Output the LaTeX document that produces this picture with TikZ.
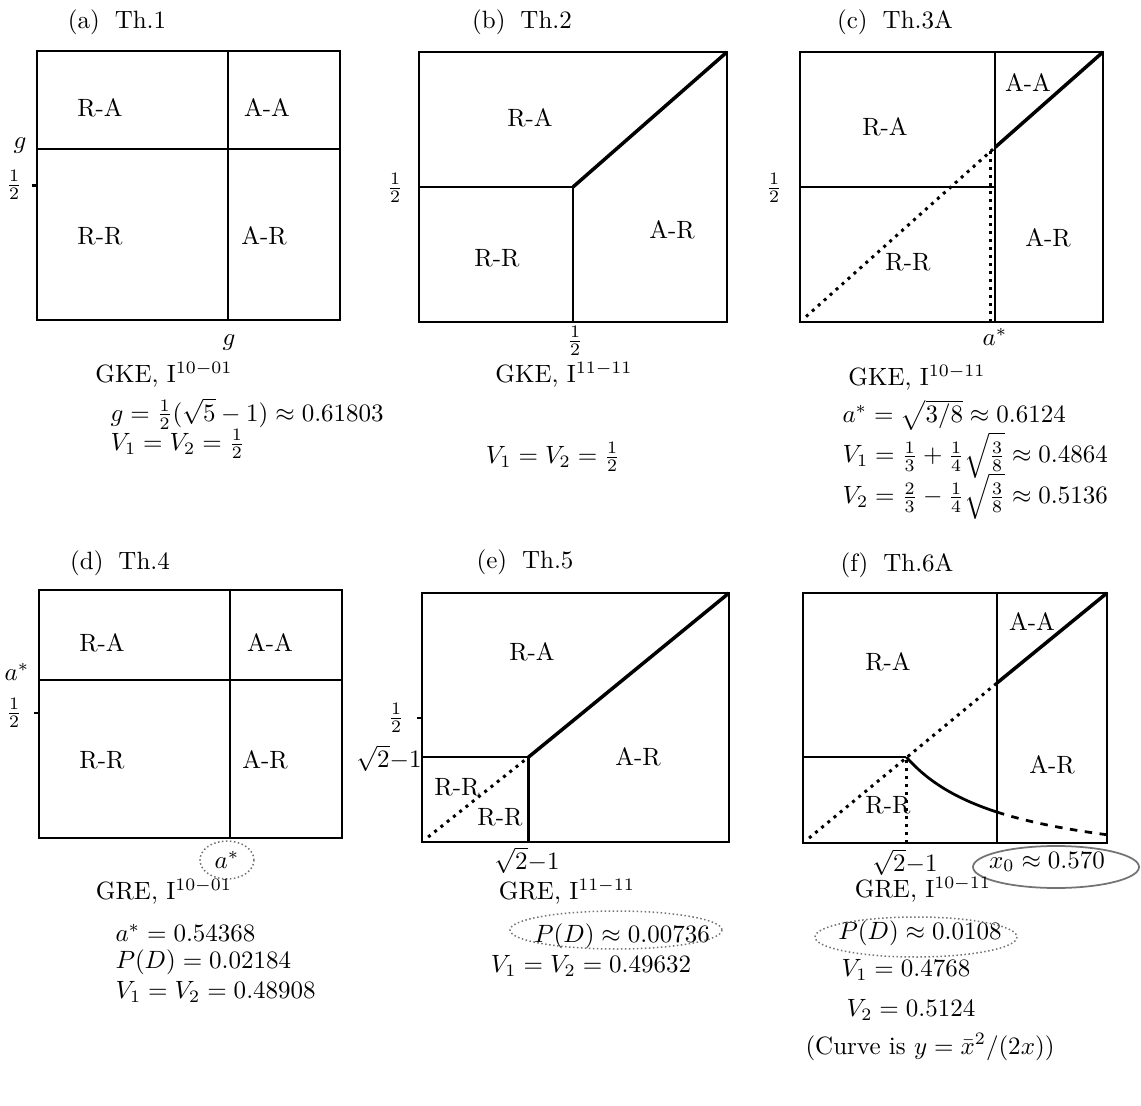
\documentclass[tikz,border=0pt]{standalone}
\usepackage{tikz}
\usetikzlibrary{calc}
\tikzset{
  frame/.style={draw=black,line width=0.9pt},
  split/.style={draw=black,line width=0.9pt},
  bound/.style={draw=black,line width=1.4pt},
  dotline/.style={draw=black,line width=1.2pt,dotted},
  dashline/.style={draw=black,line width=1.1pt,dash pattern=on 3pt off 3pt},
  region/.style={inner sep=0pt},
  ticklab/.style={inner sep=0pt},
  paneltitle/.style={inner sep=0pt},
  capt/.style={inner sep=0pt},
  formula/.style={inner sep=0pt,anchor=west},
  scribble/.style={draw=black!55,densely dotted,line width=0.6pt},
}

\begin{document}
\begin{tikzpicture}[x=0.4pt,y=-0.4pt]
\useasboundingbox (0,0) rectangle (1141,1106);

% --- (a) Th.1
\node[paneltitle] (aT) at (117,22) {(a)\hspace{0.6em}Th.1};
\begin{scope}[shift={(37,320)},x={(121.2pt,0)},y={(0,107.6pt)}]
  \draw[frame] (0,0) rectangle (1,1);
  \draw[split] (0,0.635) -- (1,0.635);
  \draw[split] (0.63,0) -- (0.63,1);
  \draw[split] (0,0.5) -- ++(-0.015,0);
\end{scope}
\node[region] (aRA) at (100,108) {R-A};
\node[region] (aAA) at (267,108) {A-A};
\node[region] (aRR) at (100,236) {R-R};
\node[region] (aAR) at (264,236) {A-R};
\node[ticklab] (aGy) at (20,146) {$g$};
\node[ticklab] (aHy) at (14,185) {$\frac12$};
\node[ticklab] (aGx) at (229,343) {$g$};
\node[capt] (aC) at (164,375) {GKE, I$^{10-01}$};
\node[formula] (aF1) at (110,414) {$g=\frac12(\sqrt5-1)\approx0.61803$};
\node[formula] (aF2) at (110,444) {$V_1=V_2=\frac12$};

% --- (b) Th.2
\node[paneltitle] (bT) at (522,22) {(b)\hspace{0.6em}Th.2};
\begin{scope}[shift={(419,322)},x={(123.2pt,0)},y={(0,108pt)}]
  \draw[frame] (0,0) rectangle (1,1);
  \coordinate (bK) at (0.5,0.5);
  \draw[split] (0,0.5) -- (bK) -- (0.5,0);
  \draw[bound] (bK) -- (1,1);
\end{scope}
\node[region] (bRA) at (530,118) {R-A};
\node[region] (bAR) at (672,230) {A-R};
\node[region] (bRR) at (497,258) {R-R};
\node[ticklab] (bHy) at (395,188) {$\frac12$};
\node[ticklab] (bHx) at (575,341) {$\frac12$};
\node[capt] (bC) at (564,375) {GKE, I$^{11-11}$};
\node[capt] (bF) at (553,457) {$V_1=V_2=\frac12$};

% --- (c) Th.3A
\node[paneltitle] (cT) at (895,22) {(c)\hspace{0.6em}Th.3A};
\begin{scope}[shift={(800,322)},x={(121.2pt,0)},y={(0,108pt)}]
  \draw[frame] (0,0) rectangle (1,1);
  \coordinate (cK) at (0.644,0.647);
  \draw[split] (0.644,0) -- (0.644,1);
  \draw[split] (0,0.5) -- (0.644,0.5);
  \draw[bound] (cK) -- (1,1);
  \draw[dotline] (0.02,0.02) -- (cK);
  \draw[dotline] (0.63,0) -- (0.63,0.645);
\end{scope}
\node[region] (cRA) at (885,127) {R-A};
\node[region] (cAA) at (1028,83) {A-A};
\node[region] (cAR) at (1048,238) {A-R};
\node[region] (cRR) at (908,262) {R-R};
\node[ticklab] (cHy) at (774,188) {$\frac12$};
\node[ticklab] (cAx) at (995,337) {$a^*$};
\node[capt] (cC) at (917,378) {GKE, I$^{10-11}$};
\node[formula] (cF1) at (842,415) {$a^*=\sqrt{3/8}\approx0.6124$};
\node[formula] (cF2) at (842,455) {$V_1=\frac13+\frac14\sqrt{\frac38}\approx0.4864$};
\node[formula] (cF3) at (842,496) {$V_2=\frac23-\frac14\sqrt{\frac38}\approx0.5136$};

% --- (d) Th.4
\node[paneltitle] (dT) at (120,563) {(d)\hspace{0.6em}Th.4};
\begin{scope}[shift={(39,838)},x={(121.2pt,0)},y={(0,99.2pt)}]
  \draw[frame] (0,0) rectangle (1,1);
  \draw[split] (0,0.637) -- (1,0.637);
  \draw[split] (0.63,0) -- (0.63,1);
  \draw[split] (0,0.504) -- ++(-0.015,0);
\end{scope}
\node[region] (dRA) at (102,643) {R-A};
\node[region] (dAA) at (270,643) {A-A};
\node[region] (dRR) at (102,760) {R-R};
\node[region] (dAR) at (265,760) {A-R};
\node[ticklab] (dAy) at (17,672) {$a^*$};
\node[ticklab] (dHy) at (14,713) {$\frac12$};
\node[ticklab] (dAx) at (227,860) {$a^*$};
\draw[scribble] (dAx) ellipse [x radius=27,y radius=19];
\node[capt] (dC) at (164,892) {GRE, I$^{10-01}$};
\node[formula] (dF1) at (115,933) {$a^*=0.54368$};
\node[formula] (dF2) at (115,962) {$P(D)=0.02184$};
\node[formula] (dF3) at (115,992) {$V_1=V_2=0.48908$};

% --- (e) Th.5
\node[paneltitle] (eT) at (525,562) {(e)\hspace{0.6em}Th.5};
\begin{scope}[shift={(422,842)},x={(122.8pt,0)},y={(0,99.6pt)}]
  \draw[frame] (0,0) rectangle (1,1);
  \coordinate (eK) at (0.347,0.341);
  \draw[split] (0,0.341) -- (eK) -- (0.347,0);
  \draw[bound] (eK) -- (1,1);
  \draw[dotline] (0.02,0.02) -- (eK);
  \draw[split] (0,0.498) -- ++(-0.015,0);
\end{scope}
\node[region] (eRA) at (532,652) {R-A};
\node[region] (eAR) at (638,757) {A-R};
\node[region] (eRR1) at (457,787) {R-R};
\node[region] (eRR2) at (500,817) {R-R};
\node[ticklab] (eHy) at (396,718) {$\frac12$};
\node[ticklab] (eSy) at (389,758) {$\sqrt2{-}1$};
\node[ticklab] (eSx) at (527,860) {$\sqrt2{-}1$};
\node[capt] (eC) at (567,892) {GRE, I$^{11-11}$};
\node[capt] (eF1) at (622,936) {$P(D)\approx0.00736$};
\node[capt] (eF2) at (591,966) {$V_1=V_2=0.49632$};
\draw[scribble] ($(eF1)+(-6,-6)$) ellipse [x radius=106,y radius=19];

% --- (f) Th.6A
\node[paneltitle] (fT) at (897,565) {(f)\hspace{0.6em}Th.6A};
\begin{scope}[shift={(803,843)},x={(121.6pt,0)},y={(0,100pt)}]
  \draw[frame] (0,0) rectangle (1,1);
  \coordinate (fK) at (0.34,0.344);
  \coordinate (fD) at (0.638,0.64);
  \draw[split] (0.638,0) -- (0.638,1);
  \draw[split] (0,0.344) -- (fK);
  \draw[bound] (fD) -- (1,1);
  \draw[dotline] (0.02,0.02) -- (fD);
  \draw[dotline] (0.34,0) -- (fK);
  \draw[split,line width=1.1pt] plot[domain=0.34:0.638,samples=30] (\x,{0.16/\x-0.127});
  \draw[dashline] plot[domain=0.638:1,samples=30] (\x,{0.16/\x-0.127});
\end{scope}
\node[region] (fRA) at (888,662) {R-A};
\node[region] (fAA) at (1032,622) {A-A};
\node[region] (fAR) at (1052,765) {A-R};
\node[region] (fRR) at (888,805) {R-R};
\node[ticklab] (fSx) at (905,862) {$\sqrt2{-}1$};
\node[ticklab] (fXx) at (1047,862) {$x_0\approx0.570$};
\draw[scribble,solid,line width=0.7pt] ($(fXx)+(9,5)$) ellipse [x radius=83,y radius=21];
\node[capt] (fC) at (923,890) {GRE, I$^{10-11}$};
\node[capt] (fF1) at (920,933) {$P(D)\approx0.0108$};
\draw[scribble] ($(fF1)+(-4,4)$) ellipse [x radius=101,y radius=20];
\node[capt] (fF2) at (906,970) {$V_1=0.4768$};
\node[capt] (fF3) at (911,1010) {$V_2=0.5124$};
\node[capt] (fF4) at (930,1047) {(Curve is $y=\bar{x}^2/(2x)$)};

\end{tikzpicture}
\end{document}
